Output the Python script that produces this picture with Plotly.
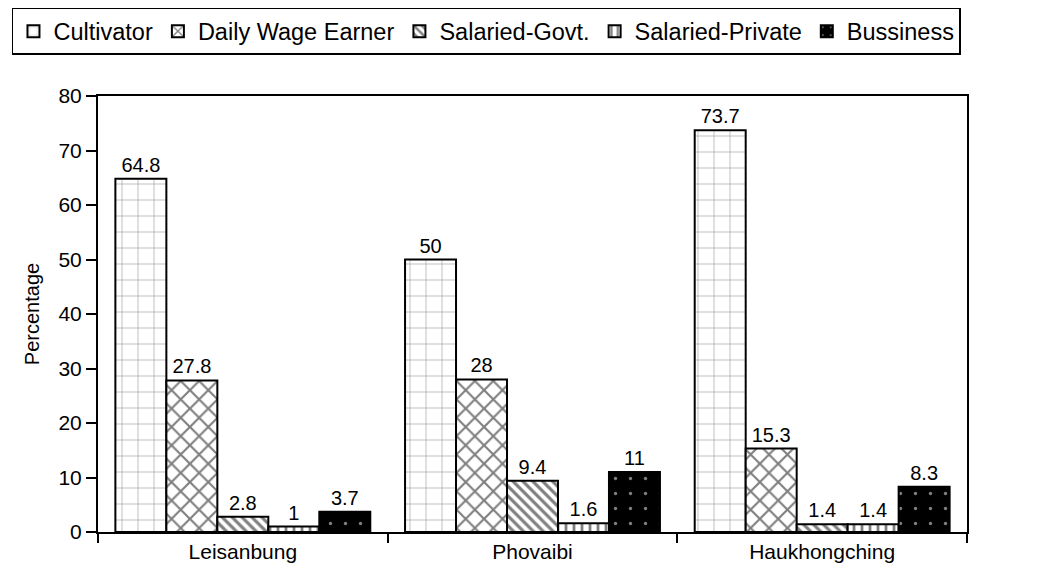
import plotly.graph_objects as go

villages = ["Leisanbung", "Phovaibi", "Haukhongching"]
occupations = ["Cultivator", "Daily Wage Earner", "Salaried-Govt.", "Salaried-Private", "Bussiness"]
shares = {
    "Cultivator": [64.8, 50, 73.7],
    "Daily Wage Earner": [27.8, 28, 15.3],
    "Salaried-Govt.": [2.8, 9.4, 1.4],
    "Salaried-Private": [1, 1.6, 1.4],
    "Bussiness": [3.7, 11, 8.3],
}
y_ticks = [0, 10, 20, 30, 40, 50, 60, 70, 80]

PATTERNS = {
    "Cultivator": {"shape": "+", "bgcolor": "white", "fgcolor": "#222222", "size": 16, "solidity": 0.07},
    "Daily Wage Earner": {"shape": "x", "bgcolor": "white", "fgcolor": "black", "size": 13, "solidity": 0.3},
    "Salaried-Govt.": {"shape": "\\", "bgcolor": "white", "fgcolor": "black", "size": 7, "solidity": 0.45},
    "Salaried-Private": {"shape": "|", "bgcolor": "white", "fgcolor": "black", "size": 8, "solidity": 0.35},
    "Bussiness": {"shape": ".", "bgcolor": "black", "fgcolor": "white", "size": 15, "solidity": 0.04},
}

FONT = "Liberation Sans, Arial, sans-serif"

fig = go.Figure()
for occ in occupations:
    fig.add_trace(
        go.Bar(
            x=villages,
            y=shares[occ],
            name=occ,
            text=[f"{v:g}" for v in shares[occ]],
            textposition="outside",
            textfont={"size": 20, "color": "black", "family": FONT},
            cliponaxis=False,
            marker={
                "color": "white",
                "line": {"color": "black", "width": 2},
                "pattern": PATTERNS[occ],
            },
        )
    )

# the page body adds 8px of margin, so the margins are shifted to match
fig.update_layout(
    width=1037,
    height=585,
    barmode="group",
    bargap=0.12,
    bargroupgap=0,
    plot_bgcolor="white",
    paper_bgcolor="white",
    font={"family": FONT, "size": 19, "color": "black"},
    margin={"l": 90, "r": 78, "t": 88, "b": 61, "autoexpand": False},
    showlegend=True,
    legend={
        "orientation": "h",
        "x": -0.099,
        "xanchor": "left",
        "y": 1.202,
        "yanchor": "top",
        "bordercolor": "black",
        "borderwidth": 1.5,
        "font": {"size": 23.5, "family": FONT},
        "itemwidth": 30,
        "tracegroupgap": 0,
    },
    xaxis={
        "showline": True,
        "linecolor": "black",
        "linewidth": 2,
        "mirror": True,
        "ticks": "outside",
        "tickson": "boundaries",
        "ticklen": 9,
        "tickwidth": 2,
        "tickcolor": "black",
        "tickfont": {"size": 21},
        "automargin": False,
    },
    yaxis={
        "range": [0, 80],
        "tickvals": y_ticks,
        "showline": True,
        "linecolor": "black",
        "linewidth": 2,
        "mirror": True,
        "ticks": "outside",
        "ticklen": 10,
        "tickwidth": 2,
        "tickcolor": "black",
        "showgrid": False,
        "zeroline": False,
        "tickfont": {"size": 21},
        "automargin": False,
        "title": {"text": "Percentage", "font": {"size": 20}, "standoff": 13},
    },
)

fig.write_html("out.html")
